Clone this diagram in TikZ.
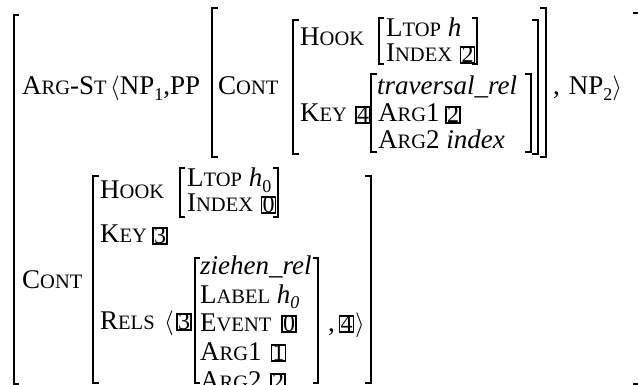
\documentclass[tikz,border=0pt]{standalone}
\usepackage{fontspec}
\setmainfont{Liberation Serif}
\newcommand\fsz[1]{\fontsize{#1}{#1}\selectfont}
% faked small capitals: full-size initial, reduced capitals after it
\newcommand\smc[2]{#1{\fsz{20.5}#2}}
\newcommand\lowsub[1]{\raisebox{-0.22em}{\fsz{18}#1}}
\newcommand\angl{$\langle$}
\newcommand\angr{$\rangle$}
% square brackets of the matrices: x, top, bottom, serif length
\newcommand\lbrk[4]{\draw[brk] ({#1+#4},#2) -- (#1,#2) -- (#1,#3) -- ({#1+#4},#3);}
\newcommand\rbrk[4]{\draw[brk] ({#1-#4},#2) -- (#1,#2) -- (#1,#3) -- ({#1-#4},#3);}
\begin{document}
\begin{tikzpicture}[x=1pt,y=-1pt,
  txt/.style={anchor=base west,inner sep=0pt,font=\fsz{27}},
  tag/.style={draw,line width=1.6pt,inner sep=0pt,minimum width=14pt,minimum height=16pt,font=\fsz{24}},
  brk/.style={line width=1.6pt}]
\useasboundingbox (0,0) rectangle (638,385);

% outer matrix
\lbrk{14}{15}{384}{5}
\rbrk{639.5}{13}{384}{7}

% ARG-ST row
\node[txt] (argst) at (22,95) {\smc{A}{RG}-\smc{S}{T}};
\node[txt] (np1) at (110,95) {\angl NP\lowsub{1},PP};
\lbrk{212}{8}{157}{6}
\rbrk{546}{8}{157}{6}
\node[txt] (cont1) at (218,95) {\smc{C}{ONT}};
\lbrk{293}{20}{154}{6}
\rbrk{538}{20}{154}{6}
\node[txt] (hook1) at (300,46) {\smc{H}{OOK}};
\lbrk{379}{18}{64}{5}
\rbrk{477}{18}{64}{5}
\node[txt] (ltop1) at (386,37) {\smc{L}{TOP} \textit{h}};
\node[txt] (index1) at (386,62) {\smc{I}{NDEX}};
\node[tag] (t1) at (467.5,55) {2};
\node[txt] (key1) at (300,122) {\smc{K}{EY}};
\node[tag] (t2) at (363,115) {4};
\lbrk{371}{74}{152}{6}
\rbrk{531}{74}{152}{6}
\node[txt] (trav) at (377,95) {\textit{traversal\_rel}};
\node[txt] (arg1a) at (378,122) {\smc{A}{RG}1};
\node[tag] (t3) at (453,115) {2};
\node[txt] (arg2a) at (378,149) {\smc{A}{RG}2 \textit{index}};
\node[txt] (np2) at (553,95) {,\hspace{9pt}NP\lowsub{2}\angr};

% CONT row
\node[txt] (cont2) at (22,288) {\smc{C}{ONT}};
\lbrk{93}{176}{383}{6}
\rbrk{371}{176}{383}{6}
\node[txt] (hook2) at (100,199) {\smc{H}{OOK}};
\lbrk{180}{168}{217}{5}
\rbrk{278}{168}{217}{5}
\node[txt] (ltop2) at (187,187) {\smc{L}{TOP} \textit{h}\lowsub{0}};
\node[txt] (index2) at (187,212) {\smc{I}{NDEX}};
\node[tag] (t4) at (268.5,205) {0};
\node[txt] (key2) at (100,243) {\smc{K}{EY}};
\node[tag] (t5) at (160,236) {3};
\node[txt] (rels) at (100,329) {\smc{R}{ELS}};
\node[txt] (lang) at (164,329) {\angl};
\node[tag] (t6) at (184,322) {3};
\lbrk{195}{258}{383}{5}
\rbrk{318}{258}{383}{5}
\node[txt] (zr) at (200,275) {\textit{ziehen\_rel}};
\node[txt] (label) at (200,303) {\smc{L}{ABEL} \textit{h\lowsub{0}}};
\node[txt] (event) at (200,331) {\smc{E}{VENT}};
\node[tag] (t7) at (289,324) {0};
\node[txt] (arg1b) at (200,360) {\smc{A}{RG}1};
\node[tag] (t8) at (278.5,353) {1};
\node[txt] (arg2b) at (200,389) {\smc{A}{RG}2};
\node[tag] (t9) at (278,382) {2};
\node[txt] (comma) at (328,331) {,};
\node[tag] (t10) at (346.5,324) {4};
\node[txt] (rang) at (355,331) {\angr};
\end{tikzpicture}
\end{document}
